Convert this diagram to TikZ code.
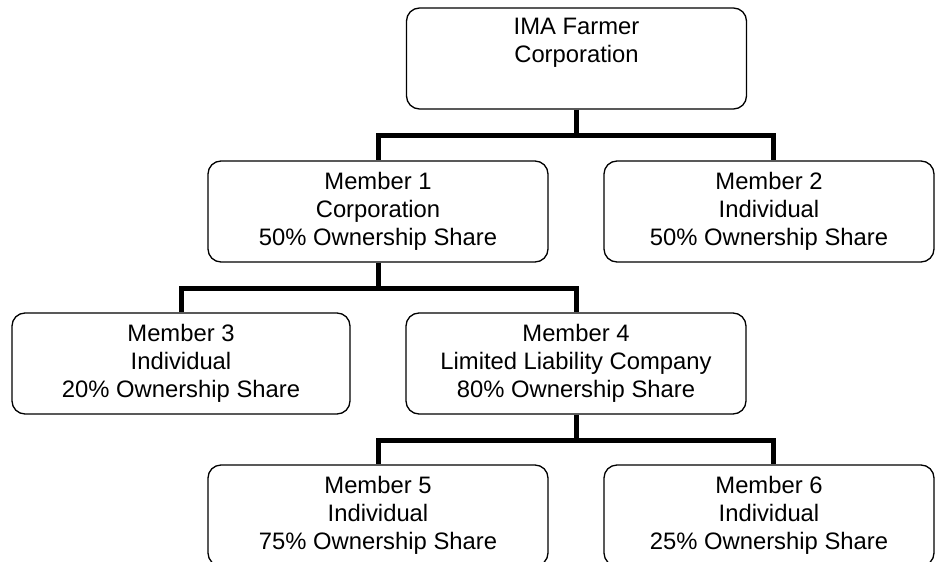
\documentclass[tikz,border=0pt]{standalone}
\usepackage{fontspec}
\setmainfont{Liberation Sans}

\begin{document}
\begin{tikzpicture}[x=1pt,y=-1pt]
      \tikzset{member/.style={draw,line width=1.3pt,rounded corners=13pt,minimum width=340pt,minimum height=101pt,inner sep=0pt,align=center,font=\fontsize{23.8}{27.7}\selectfont},
               link/.style={line width=5pt}}
      \useasboundingbox (0,0) rectangle (935,562);
      \node[member] (ima) at (576.5,58.5) {IMA Farmer\\Corporation\\\strut};
      \node[member] (m1) at (378,211.5) {Member 1\\Corporation\\50\% Ownership Share};
      \node[member,minimum width=330pt] (m2) at (769,211.5) {Member 2\\Individual\\50\% Ownership Share};
      \node[member,minimum width=338pt] (m3) at (181,363.5) {Member 3\\Individual\\20\% Ownership Share};
      \node[member] (m4) at (576,363.5) {Member 4\\Limited Liability Company\\80\% Ownership Share};
      \node[member] (m5) at (378,515.5) {Member 5\\Individual\\75\% Ownership Share};
      \node[member,minimum width=330pt] (m6) at (769,515.5) {Member 6\\Individual\\25\% Ownership Share};
      \draw[link] (ima.south) -- ++(0,26) coordinate (j1) -| (m1.north) (j1) -| ([xshift=4pt]m2.north);
      \draw[link] (m1.south) -- ++(0,26) coordinate (j2) -| (m3.north) (j2) -| (m4.north);
      \draw[link] (m4.south) -- ++(0,26) coordinate (j3) -| (m5.north) (j3) -| ([xshift=4pt]m6.north);
    \end{tikzpicture}
\end{document}
